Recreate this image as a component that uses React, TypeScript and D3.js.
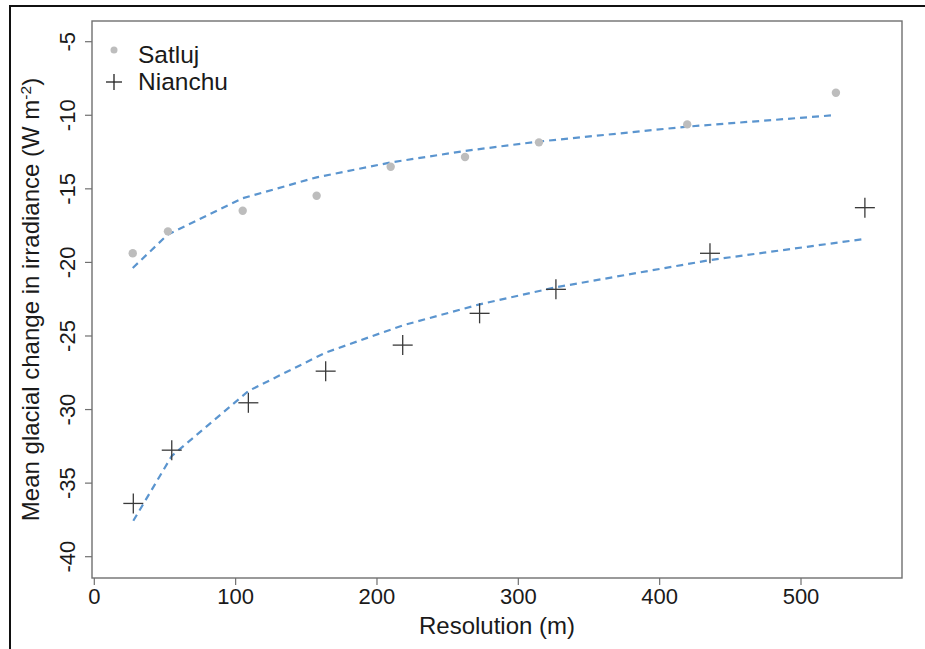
import React from "react";
import * as d3 from "d3";

const satlujRes = [27.2, 52.1, 105, 157.3, 209.7, 262.3, 314.6, 419.5, 524.7];
const satlujVal = [-19.38, -17.89, -16.49, -15.47, -13.5, -12.84, -11.84, -10.62, -8.47];
const nianchuRes = [27.6, 54.8, 109, 163.7, 218.2, 272.6, 326.6, 435.6, 545.2];
const nianchuVal = [-36.38, -32.76, -29.54, -27.39, -25.62, -23.46, -21.83, -19.38, -16.28];
const xTicks = [0, 100, 200, 300, 400, 500];
const yTicks = [-5, -10, -15, -20, -25, -30, -35, -40];
const legendLabels = ["Satluj", "Nianchu"];

const W = 925;
const H = 649;
const box = { left: 92, right: 902, top: 21, bottom: 578 };

const FONT = "Arial, 'Liberation Sans', Helvetica, sans-serif";

// log fit y = a + b ln(x), as in the original (least squares)
function logFit(xs: number[], ys: number[]) {
  const lx = xs.map((v) => Math.log(v));
  const mx = d3.mean(lx) as number;
  const my = d3.mean(ys) as number;
  let sxy = 0;
  let sxx = 0;
  lx.forEach((v, i) => {
    sxy += (v - mx) * (ys[i] - my);
    sxx += (v - mx) * (v - mx);
  });
  const b = sxy / sxx;
  const a = my - b * mx;
  return xs.map((x) => ({ x, y: a + b * Math.log(x) }));
}

export default function App() {
  const x = d3.scaleLinear().domain([0, 500]).range([94.3, 801]);
  const y = d3.scaleLinear().domain([-5, -40]).range([41.7, 556.7]);

  const line = d3
    .line<{ x: number; y: number }>()
    .x((d) => x(d.x))
    .y((d) => y(d.y));

  const fitS = logFit(satlujRes, satlujVal);
  const fitN = logFit(nianchuRes, nianchuVal);

  const tickColor = "#707070";
  const textColor = "#1a1a1a";
  const blue = "#5b95cf";

  const plus = (cx: number, cy: number, s: number, key: string, color = "#3a3a3a") => (
    <g key={key} stroke={color} strokeWidth={1.3}>
      <line x1={cx - s} x2={cx + s} y1={cy} y2={cy} />
      <line x1={cx} x2={cx} y1={cy - s} y2={cy + s} />
    </g>
  );

  return (
    <svg
      width={W}
      height={H}
      style={{ position: "absolute", left: 0, top: 0, background: "#fff" }}
      fontFamily={FONT}
    >
      <rect x={0} y={0} width={W} height={H} fill="#fff" />
      {/* outer figure border (top and left) */}
      <line x1={9} x2={W} y1={6} y2={6} stroke="#111" strokeWidth={2} />
      <line x1={10} x2={10} y1={5} y2={H} stroke="#111" strokeWidth={2} />

      {/* plot box */}
      <rect
        x={box.left}
        y={box.top}
        width={box.right - box.left}
        height={box.bottom - box.top}
        fill="none"
        stroke={tickColor}
        strokeWidth={1.4}
      />

      {/* x axis ticks */}
      {xTicks.map((t) => (
        <g key={"xt" + t}>
          <line x1={x(t)} x2={x(t)} y1={box.bottom} y2={box.bottom + 7} stroke={tickColor} strokeWidth={1.2} />
          <text x={x(t)} y={604} textAnchor="middle" fontSize={22} fill={textColor}>
            {t}
          </text>
        </g>
      ))}

      {/* y axis ticks */}
      {yTicks.map((t) => (
        <g key={"yt" + t}>
          <line x1={box.left - 7} x2={box.left} y1={y(t)} y2={y(t)} stroke={tickColor} strokeWidth={1.2} />
          <text
            transform={`translate(75,${y(t)}) rotate(-90)`}
            textAnchor="middle"
            fontSize={22}
            fill={textColor}
          >
            {t}
          </text>
        </g>
      ))}

      {/* axis titles */}
      <text x={(box.left + box.right) / 2} y={634} textAnchor="middle" fontSize={24} fill={textColor}>
        Resolution (m)
      </text>
      <text
        transform={`translate(39,${(box.top + box.bottom) / 2}) rotate(-90)`}
        textAnchor="middle"
        fontSize={24}
        fill={textColor}
      >
        Mean glacial change in irradiance (W m
        <tspan fontSize={15.5} dy={-8}>-2</tspan>
        <tspan dy={8}>)</tspan>
      </text>

      {/* fitted dashed lines */}
      <path d={line(fitS) || ""} fill="none" stroke={blue} strokeWidth={2.2} strokeDasharray="7 5" />
      <path d={line(fitN) || ""} fill="none" stroke={blue} strokeWidth={2.2} strokeDasharray="7 5" />

      {/* Satluj points */}
      {satlujRes.map((r, i) => (
        <circle key={"s" + i} cx={x(r)} cy={y(satlujVal[i])} r={4.2} fill="#bdbdbd" />
      ))}

      {/* Nianchu points */}
      {nianchuRes.map((r, i) => plus(x(r), y(nianchuVal[i]), 10, "n" + i))}

      {/* legend */}
      <circle cx={114} cy={50} r={3.5} fill="#bdbdbd" />
      <text x={138} y={63} fontSize={24.5} fill={textColor}>
        {legendLabels[0]}
      </text>
      {plus(114, 82, 8, "lg", "#222")}
      <text x={138} y={90} fontSize={24.5} fill={textColor}>
        {legendLabels[1]}
      </text>
    </svg>
  );
}
